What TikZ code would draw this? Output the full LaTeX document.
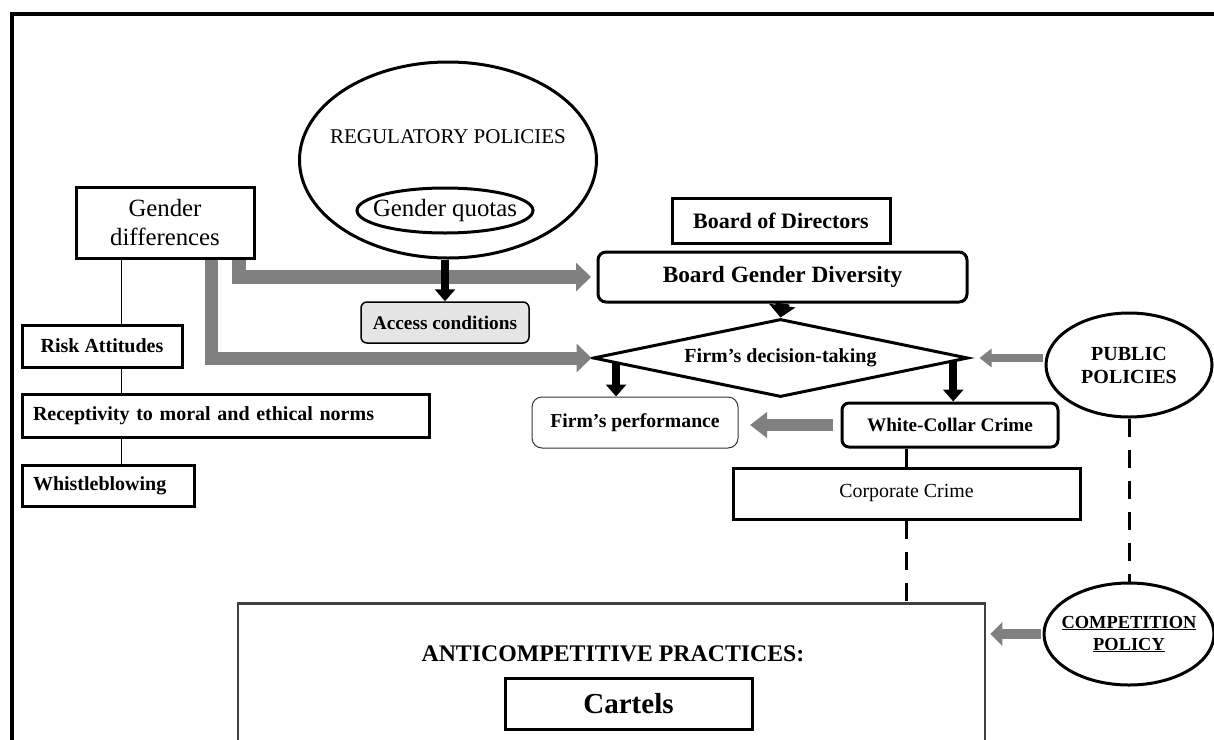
\documentclass[tikz,border=0pt]{standalone}
\usepackage{fontspec}
\setmainfont{Liberation Serif}
\usetikzlibrary{arrows.meta,shapes.geometric,positioning,calc}
\newcommand{\fs}[2]{\fontsize{#1}{#2}\selectfont}
\tikzset{
  box/.style={draw,line width=3pt,fill=white,inner sep=0pt,align=center},
  rbox/.style={box,rounded corners=7pt},
  leftbox/.style={box,align=left,inner xsep=11pt},
  oval/.style={draw,ellipse,line width=3pt,fill=white,inner sep=0pt,align=center},
  body/.style={font=\fs{20}{24}\bfseries},
  spine/.style={line width=1pt},
  blk/.style={line width=8pt,-{Triangle[width=20pt,length=12pt]}},
  bigblk/.style={line width=14pt,-{Triangle[width=26pt,length=12pt]}},
  grayarr/.style args={#1/#2/#3}{draw=gray,line width=#1pt,-{Triangle[width=#2pt,length=#3pt]}},
  dashline/.style={line width=3pt,dash pattern=on 18pt off 13pt}
}
\begin{document}
\begin{tikzpicture}[x=1pt,y=-1pt]
  \useasboundingbox (0,0) rectangle (1214,739);
  \clip (0,0) rectangle (1214,739);
  % frame
  \draw[line width=4pt] (11.5,760) -- (11.5,13.5) -- (1230,13.5);

  % left column
  \node[box,minimum width=178pt,minimum height=71pt,font=\fs{24.8}{29}] (gd) at (165,222.5) {Gender\\differences};
  \node[box,body,minimum width=160pt,minimum height=42pt] (ra) at (102,346) {Risk Attitudes};
  \node[leftbox,body,text width=385pt,minimum height=43pt,below=24pt of ra.south west,anchor=north west] (rec) {Receptivity to moral and ethical norms};
  \node[leftbox,body,text width=150pt,minimum height=41pt,below=25pt of rec.south west,anchor=north west] (wb) {Whistleblowing};

  % regulation
  \node[oval,minimum width=297pt,minimum height=196pt,label={[font=\fs{21}{25},yshift=23pt]center:REGULATORY POLICIES}] (reg) at (448,160) {};
  \node[oval,minimum width=176pt,minimum height=45pt,font=\fs{24.8}{29}] (gq) at (445,210.5) {\makebox[0pt]{Gender quotas}};
  \node[rbox,rounded corners=6pt,line width=1.5pt,fill=gray!20,minimum width=168pt,minimum height=41pt,font=\fs{19.3}{23}\bfseries] (acc) at (445,322.5) {Access conditions};

  % board and firm
  \node[box,minimum width=218pt,minimum height=45pt,font=\fs{22}{26}\bfseries] (bod) at (781,220.5) {Board of Directors};
  \node[rbox,rounded corners=8pt,minimum width=369pt,minimum height=50pt,font=\fs{23.3}{28}\bfseries] (bgd) at (782.5,277) {Board Gender Diversity};
  \node[draw,diamond,line width=3pt,fill=white,inner sep=0pt,aspect=5,minimum width=375pt,minimum height=78pt,body] (dec) at (780.5,358) {Firm’s decision-taking};
  \node[rbox,rounded corners=10pt,line width=1pt,draw=black!80,minimum width=206pt,minimum height=51pt,font=\fs{19.7}{23}\bfseries] (perf) at (635,422.5) {Firm’s performance};
  \node[rbox,minimum width=216pt,minimum height=44pt,font=\fs{19.2}{23}\bfseries] (wcc) at (950,425) {White-Collar Crime};
  \node[box,minimum width=347pt,minimum height=51pt,font=\fs{19.9}{24}] (corp) at (906.5,493.5) {Corporate Crime};

  % policies
  \node[oval,minimum width=166pt,minimum height=104pt,font=\fs{20}{23}\bfseries] (pub) at (1129,365) {PUBLIC\\POLICIES};
  \node[oval,minimum width=170pt,minimum height=102pt,font=\fs{18.4}{22}\bfseries] (comp) at (1129,634) {\makebox[0pt]{\underline{COMPETITION}}\\\makebox[0pt]{\underline{POLICY}}};

  % anticompetitive practices
  \node[draw=black!75,line width=2.5pt,minimum width=747pt,minimum height=300pt,anchor=north,inner sep=0pt] (anti) at (611.5,602) {};
  \node[font=\fs{23.8}{28}\bfseries] (acp) at (613,654) {ANTICOMPETITIVE PRACTICES:};
  \node[box,minimum width=247pt,minimum height=51pt,font=\fs{29}{34}\bfseries] (cart) at (628.5,703.5) {Cartels};

  % connectors
  \coordinate (sp) at (121,0);
  \coordinate (g1) at (239,0);
  \coordinate (g2) at (211,0);
  \draw[spine] (gd.south -| sp) -- (ra.north -| sp);
  \draw[spine] (ra.south -| sp) -- (rec.north -| sp);
  \draw[spine] (rec.south -| sp) -- (wb.north -| sp);

  \draw[grayarr=14/28/15,shorten >=5.5pt] (gd.south -| g1) |- (bgd.west);
  \draw[grayarr=13/28/15] (gd.south -| g2) |- (dec.west);

  \draw[blk] (reg.south -| acc.north) -- (acc.north);
  \draw[bigblk] (bgd.south) -- (dec.north);
  \coordinate (d1) at ($(dec.west)!0.13!(dec.south)$);
  \coordinate (d2) at ($(dec.east)!0.086!(dec.south)$);
  \draw[blk] (d1) -- (d1 |- perf.north);
  \draw[blk] (d2) -- (d2 |- wcc.north);

  \draw[grayarr=12/25/17,shorten <=8pt,shorten >=11.5pt] (wcc.west) -- (wcc.west -| perf.east);
  \draw[grayarr=8/18/12,shorten <=1.5pt,shorten >=10pt] (dec.east -| pub.west) -- (dec.east);
  \draw[grayarr=10/23/12,shorten <=1.5pt,shorten >=4pt] (comp.west) -- (comp.west -| anti.east);

  \draw[dashline] (corp.north |- wcc.south) -- (corp.north);
  \draw[dashline] (corp.south) -- (corp.south |- anti.north);
  \draw[dashline] (pub.south) -- (comp.north);
\end{tikzpicture}
\end{document}
